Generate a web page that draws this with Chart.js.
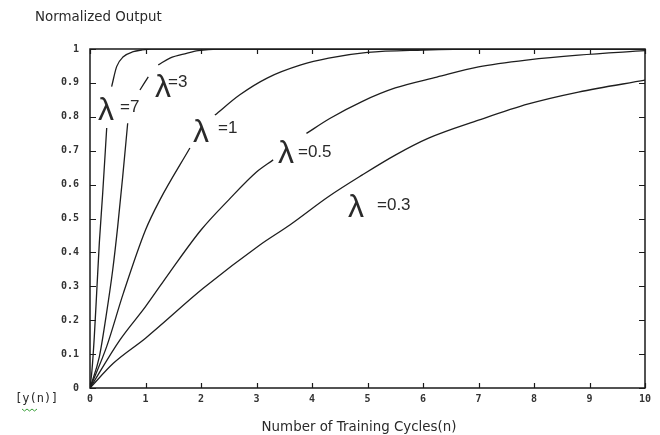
<!DOCTYPE html>
<html>
<head>
<meta charset="utf-8">
<script src="https://cdn.jsdelivr.net/npm/chart.js@4.4.0/dist/chart.umd.min.js"></script>
<style>
  html, body { margin: 0; padding: 0; background: #fff; }
</style>
</head>
<body>
<canvas id="myChart" width="660" height="435"></canvas>
<script>
// tick values and labels
const xTickValues = [0, 1, 2, 3, 4, 5, 6, 7, 8, 9, 10];
const xTickLabels = ['0', '1', '2', '3', '4', '5', '6', '7', '8', '9', '10'];
const yTickValues = [0, 0.1, 0.2, 0.3, 0.4, 0.5, 0.6, 0.7, 0.8, 0.9, 1];
const yTickLabels = ['0', '0.1', '0.2', '0.3', '0.4', '0.5', '0.6', '0.7', '0.8', '0.9', '1'];

// one curve per learning rate, null = break in the line where the label sits
const lambdas = ['7', '3', '1', '0.5', '0.3'];

const nLam7 = [0, 0.036, 0.077, 0.12, 0.168, 0.229, 0.301, 0.345, 0.39, 0.48, 0.6, 0.78, 0.93, 1.1, 10];
const yLam7 = [0, 0.053, 0.15, 0.28, 0.428, 0.575, 0.767, null, 0.889, 0.948, 0.977, 0.992, 0.997, 1, 1];

const nLam3 = [0, 0.168, 0.288, 0.409, 0.499, 0.589, 0.679, 0.79, 0.9, 1.05, 1.14, 1.23, 1.44, 1.74, 1.95, 2.3, 10];
const yLam3 = [0, 0.092, 0.21, 0.348, 0.476, 0.623, 0.781, null, 0.879, 0.918, null, 0.953, 0.973, 0.987, 0.995, 1, 1];

const nLam1 = [0, 0.3, 0.6, 1.0, 1.26, 1.8, 2.0, 2.25, 2.7, 3.2, 3.8, 4.3, 5, 6, 7, 10];
const yLam1 = [0, 0.122, 0.279, 0.466, 0.555, 0.708, null, 0.805, 0.865, 0.915, 0.953, 0.973, 0.99, 0.997, 1, 1];

const nLam05 = [0, 0.54, 1, 1.44, 2, 2.5, 3, 3.3, 3.6, 3.9, 4.32, 4.9, 5.5, 6.25, 7, 7.9, 8.8, 10];
const yLam05 = [0, 0.142, 0.24, 0.342, 0.466, 0.555, 0.637, 0.673, null, 0.751, 0.795, 0.845, 0.885, 0.917, 0.947, 0.968, 0.982, 0.995];

const nLam03 = [0, 0.42, 1, 2.04, 3.06, 3.6, 4.3, 4.9, 5.5, 6.1, 7, 7.9, 8.8, 10];
const yLam03 = [0, 0.073, 0.147, 0.294, 0.422, 0.481, 0.565, 0.628, 0.687, 0.737, 0.79, 0.838, 0.873, 0.908];

// where each "λ =..." label is anchored (bottom-left of the λ, in data units)
const labelN = [0.144, 1.171, 1.856, 3.387, 4.649];
const labelY = [0.791, 0.858, 0.726, 0.664, 0.504];

const curves = [
  [nLam7, yLam7],
  [nLam3, yLam3],
  [nLam1, yLam1],
  [nLam05, yLam05],
  [nLam03, yLam03]
];

// spacing of the "=value" part after the λ, in px: [dx, dy]
const suffixShift = [[22, -8], [13, -10], [25, -9], [20, -6], [29, -7]];

const lineColor = '#1e1e1e';
const textColor = '#2a2a2a';

const datasets = curves.map((c, i) => ({
  label: 'λ=' + lambdas[i],
  data: c[0].map((n, k) => ({ x: n, y: c[1][k] })),
  borderColor: lineColor,
  borderWidth: 1.3,
  pointRadius: 0,
  fill: false,
  cubicInterpolationMode: 'monotone',
  spanGaps: false
}));

const boxAndText = {
  id: 'boxAndText',
  afterDatasetsDraw(chart) {
    const ctx = chart.ctx;
    const a = chart.chartArea;
    const xs = chart.scales.x;
    const ys = chart.scales.y;
    ctx.save();

    // frame
    ctx.strokeStyle = '#1a1a1a';
    ctx.lineWidth = 1.5;
    ctx.strokeRect(a.left, a.top, a.right - a.left, a.bottom - a.top);

    // inward tick marks on all four sides
    ctx.lineWidth = 1.2;
    ctx.beginPath();
    xTickValues.forEach(v => {
      const px = Math.round(xs.getPixelForValue(v)) + 0.5;
      ctx.moveTo(px, a.bottom); ctx.lineTo(px, a.bottom - 5);
      ctx.moveTo(px, a.top); ctx.lineTo(px, a.top + 5);
    });
    yTickValues.forEach(v => {
      const py = Math.round(ys.getPixelForValue(v)) + 0.5;
      ctx.moveTo(a.left, py); ctx.lineTo(a.left + 6, py);
      ctx.moveTo(a.right, py); ctx.lineTo(a.right - 6, py);
    });
    ctx.stroke();

    // curve labels
    ctx.fillStyle = textColor;
    ctx.textBaseline = 'alphabetic';
    ctx.textAlign = 'left';
    lambdas.forEach((lam, i) => {
      const px = xs.getPixelForValue(labelN[i]);
      const py = ys.getPixelForValue(labelY[i]);
      ctx.font = '32px "Liberation Sans"';
      ctx.fillText('λ', px, py);
      ctx.font = '17px "Liberation Sans"';
      ctx.fillText('=' + lam, px + suffixShift[i][0], py + suffixShift[i][1]);
    });

    // axis titles
    ctx.font = '13.4px "DejaVu Sans"';
    ctx.fillText('Normalized Output', 35, 21);
    ctx.textAlign = 'center';
    ctx.fillText('Number of Training Cycles(n)', 359, 431);
    ctx.textAlign = 'left';
    ctx.font = '12px "DejaVu Sans Mono"';
    ctx.fillText('[y(n)]', 15, 402);

    // spell-check squiggle under the y
    ctx.strokeStyle = '#3aa03a';
    ctx.lineWidth = 1;
    ctx.beginPath();
    ctx.moveTo(22, 409);
    for (let k = 1; k <= 6; k++) ctx.lineTo(22 + k * 2.5, k % 2 ? 411 : 409);
    ctx.stroke();

    ctx.restore();
  }
};

const ctx = document.getElementById('myChart').getContext('2d');
const chart = new Chart(ctx, {
  type: 'line',
  data: { datasets: datasets },
  plugins: [boxAndText],
  options: {
    responsive: false,
    animation: false,
    devicePixelRatio: 1,
    layout: { padding: { left: 0, right: 15, top: 49, bottom: 0 } },
    plugins: { legend: { display: false }, tooltip: { enabled: false } },
    scales: {
      x: {
        type: 'linear',
        min: 0,
        max: 10,
        afterFit(s) { s.height = 47; },
        afterBuildTicks(s) { s.ticks = xTickValues.map(v => ({ value: v })); },
        grid: { display: false, drawTicks: false },
        border: { display: false },
        ticks: {
          padding: 5,
          color: '#333',
          font: { family: 'DejaVu Sans Mono', size: 10, weight: 'bold' },
          maxRotation: 0,
          callback: (v, i) => xTickLabels[i]
        }
      },
      y: {
        type: 'linear',
        min: 0,
        max: 1,
        afterFit(s) { s.width = 90; },
        afterBuildTicks(s) { s.ticks = yTickValues.map(v => ({ value: v })); },
        grid: { display: false, drawTicks: false },
        border: { display: false },
        ticks: {
          padding: 11,
          color: '#333',
          font: { family: 'DejaVu Sans Mono', size: 10, weight: 'bold' },
          callback: (v, i) => yTickLabels[i]
        }
      }
    }
  }
});
</script>
</body>
</html>
